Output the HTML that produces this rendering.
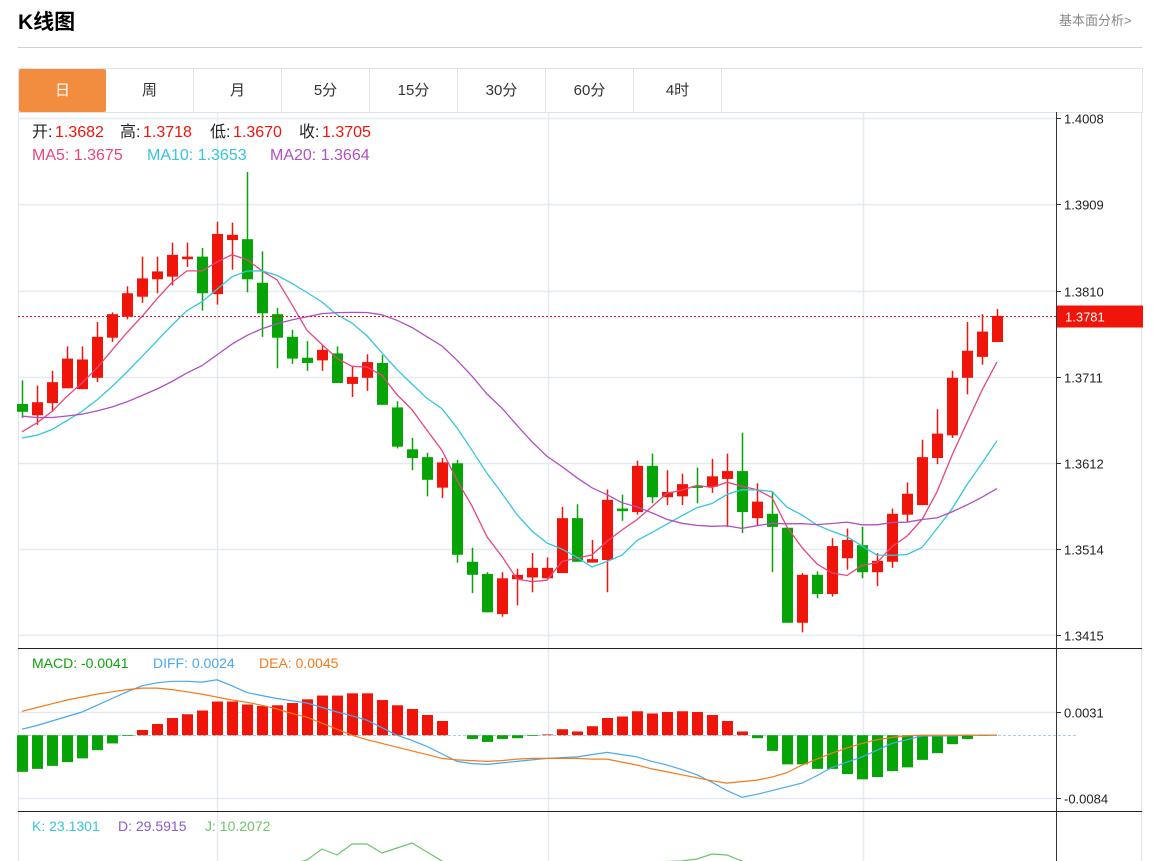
<!DOCTYPE html>
<html><head><meta charset="utf-8"><style>
html,body{margin:0;padding:0;background:#fff;width:1153px;height:861px;overflow:hidden;font-family:"Liberation Sans","Noto Sans CJK SC",sans-serif}
.abs{position:absolute;white-space:pre;line-height:20px}
.r{color:#f0150a}
</style></head><body>
<div class="abs" style="left:18px;top:10px;font-size:21px;line-height:26px;font-weight:bold;color:#000">K线图</div>
<div class="abs" style="left:1059px;top:11px;font-size:13px;color:#888">基本面分析&gt;</div>
<div class="abs" style="left:18px;top:47px;width:1124px;height:1px;background:#d0d0d0"></div>
<div class="abs" style="left:18px;top:68px;width:1123px;height:43px;border:1px solid #dde3e8;display:flex;font-size:15px;color:#333">
<div style="width:87px;height:43px;background:#f28c3f;color:#fff;display:flex;align-items:center;justify-content:center;border-radius:2px">日</div>
<div style="width:87px;border-right:1px solid #dde3e8;display:flex;align-items:center;justify-content:center">周</div>
<div style="width:87px;border-right:1px solid #dde3e8;display:flex;align-items:center;justify-content:center">月</div>
<div style="width:87px;border-right:1px solid #dde3e8;display:flex;align-items:center;justify-content:center">5分</div>
<div style="width:87px;border-right:1px solid #dde3e8;display:flex;align-items:center;justify-content:center">15分</div>
<div style="width:87px;border-right:1px solid #dde3e8;display:flex;align-items:center;justify-content:center">30分</div>
<div style="width:87px;border-right:1px solid #dde3e8;display:flex;align-items:center;justify-content:center">60分</div>
<div style="width:87px;border-right:1px solid #dde3e8;display:flex;align-items:center;justify-content:center">4时</div>
</div>
<svg id="chart" class="abs" style="left:0;top:0;line-height:normal" width="1153" height="861"></svg>
<div style="font-size:16px;color:#222">
<span class="abs" style="left:32px;top:123px">开:</span><span class="abs r" style="left:55px;top:123px">1.3682</span>
<span class="abs" style="left:120px;top:123px">高:</span><span class="abs r" style="left:143px;top:123px">1.3718</span>
<span class="abs" style="left:210px;top:123px">低:</span><span class="abs r" style="left:233px;top:123px">1.3670</span>
<span class="abs" style="left:299px;top:123px">收:</span><span class="abs r" style="left:322px;top:123px">1.3705</span>
</div>
<div style="font-size:16px">
<span class="abs" style="left:32px;top:146px;color:#e8457c">MA5: 1.3675</span>
<span class="abs" style="left:147px;top:146px;color:#35c6dc">MA10: 1.3653</span>
<span class="abs" style="left:270px;top:146px;color:#b14fc2">MA20: 1.3664</span>
</div>
<div style="font-size:14px">
<span class="abs" style="left:32px;top:653px;color:#0aa50a">MACD: -0.0041</span>
<span class="abs" style="left:153px;top:653px;color:#48a8f0">DIFF: 0.0024</span>
<span class="abs" style="left:259px;top:653px;color:#f57a1a">DEA: 0.0045</span>
</div>
<div style="font-size:14px">
<span class="abs" style="left:32px;top:816px;color:#35c6dc">K: 23.1301</span>
<span class="abs" style="left:118px;top:816px;color:#8a5ad0">D: 29.5915</span>
<span class="abs" style="left:205px;top:816px;color:#6cc46c">J: 10.2072</span>
</div>
<script>
const history = [1.3712,1.3705,1.3698,1.3690,1.3682,1.3694,1.3687,1.3680,1.3682,1.3680,1.3650,1.3640,1.3630,1.3625,1.3625,1.3630,1.3640,1.3645,1.3654];
const opens = [1.3680,1.3667,1.3681,1.3698,1.3697,1.3710,1.3756,1.3780,1.3803,1.3823,1.3826,1.3846,1.3849,1.3806,1.3868,1.3869,1.3819,1.3783,1.3757,1.3733,1.3730,1.3738,1.3703,1.3710,1.3727,1.3676,1.3628,1.3619,1.3584,1.3612,1.3499,1.3485,1.3439,1.3479,1.3481,1.3480,1.3486,1.3549,1.3498,1.3501,1.3560,1.3556,1.3609,1.3573,1.3574,1.3586,1.3585,1.3594,1.3603,1.3549,1.3554,1.3538,1.3429,1.3484,1.3462,1.3503,1.3518,1.3487,1.3499,1.3553,1.3564,1.3618,1.3644,1.3710,1.3734,1.3751];
const highs = [1.3707,1.3701,1.3718,1.3746,1.3746,1.3774,1.3785,1.3815,1.3849,1.3849,1.3865,1.3865,1.3859,1.3889,1.3888,1.3946,1.3855,1.3790,1.3765,1.3752,1.3748,1.3746,1.3724,1.3737,1.3736,1.3683,1.3641,1.3624,1.3618,1.3616,1.3515,1.3487,1.3487,1.3491,1.3509,1.3504,1.3562,1.3565,1.3524,1.3582,1.3576,1.3615,1.3623,1.3604,1.3600,1.3607,1.3617,1.3623,1.3647,1.3589,1.3580,1.3538,1.3486,1.3488,1.3526,1.3537,1.3539,1.3509,1.3560,1.3590,1.3639,1.3674,1.3718,1.3774,1.3783,1.3789];
const lows = [1.3664,1.3656,1.3671,1.3698,1.3697,1.3705,1.3751,1.3777,1.3796,1.3807,1.3816,1.3837,1.3787,1.3794,1.3834,1.3808,1.3757,1.3721,1.3726,1.3718,1.3718,1.3704,1.3688,1.3695,1.3679,1.3629,1.3604,1.3574,1.3572,1.3498,1.3463,1.3441,1.3436,1.3449,1.3464,1.3480,1.3486,1.3499,1.3498,1.3464,1.3546,1.3553,1.3566,1.3564,1.3564,1.3566,1.3578,1.3539,1.3532,1.3541,1.3487,1.3429,1.3418,1.3457,1.3459,1.3490,1.3480,1.3471,1.3492,1.3545,1.3564,1.3611,1.3641,1.3691,1.3725,1.3751];
const closes = [1.3671,1.3682,1.3705,1.3732,1.3731,1.3757,1.3783,1.3807,1.3824,1.3832,1.3851,1.3849,1.3807,1.3875,1.3874,1.3823,1.3784,1.3756,1.3732,1.3727,1.3742,1.3704,1.3711,1.3728,1.3679,1.3631,1.3618,1.3593,1.3613,1.3507,1.3484,1.3441,1.3480,1.3484,1.3492,1.3492,1.3549,1.3499,1.3502,1.3570,1.3557,1.3609,1.3573,1.3579,1.3588,1.3584,1.3597,1.3603,1.3556,1.3568,1.3539,1.3429,1.3484,1.3462,1.3517,1.3524,1.3487,1.3500,1.3554,1.3577,1.3619,1.3646,1.3710,1.3741,1.3763,1.3781];
// MACD values in units of 0.0001
const macdHist = [-49,-45,-41,-36,-31,-20,-11,-1,7,15,23,28,33,45,45,41,39,40,43,48,53,53,56,56,47,40,35,27,19,0,-5,-9,-5,-4,-1,1,8,5,12,23,25,32,29,31,32,31,27,19,5,-4,-21,-39,-39,-45,-45,-52,-59,-56,-48,-43,-33,-24,-12,-5,-1,0];
const diffVals = [8,13,19,25,31,40,49,58,66,70,72,72,71,74,66,57,53,49,46,43,37,31,26,20,10,0,-7,-15,-25,-35,-38,-39,-37,-35,-33,-31,-30,-29,-26,-23,-26,-29,-35,-40,-46,-53,-63,-74,-83,-79,-74,-69,-64,-54,-43,-36,-29,-20,-11,-6,-1,-1,-1,0,0,0];
const deaVals = [32,37,42,47,51,55,58,61,63,63,61,58,55,51,47,44,40,35,29,24,16,8,0,-6,-11,-16,-21,-26,-31,-33,-34,-35,-34,-32,-31,-31,-31,-31,-32,-32,-36,-40,-45,-49,-53,-57,-61,-64,-62,-60,-56,-50,-40,-32,-24,-17,-11,-6,-3,-1,0,0,0,0,0,0];
const jVals = [10,12,15,20,25,28,30,33,38,42,45,48,50,52,50,46,44,48,52,60,82,70,92,92,74,84,94,76,58,45,35,25,20,18,22,28,35,40,42,48,52,55,56,57,58,62,72,70,58,45,30,20,12,10,15,20,25,22,18,15,14,12,10,10,10,10];
const priceTicks = ["1.4008","1.3909","1.3810","1.3711","1.3612","1.3514","1.3415"];
const macdTicks = ["0.0031","-0.0084"];
const lastPrice = 1.3781;

const svg = document.getElementById('chart');
const NS='http://www.w3.org/2000/svg';
function mk(tag, attrs){const e=document.createElementNS(NS,tag);for(const k in attrs)e.setAttribute(k,attrs[k]);svg.appendChild(e);return e;}
const X = i => 22 + 15*i;
const Y = p => 118 + (1.4008 - p)*8718;
const MY = v => 735.2 - v*0.748;
const JY = v => 850 - (v-80)*0.5;
const L=18, R=1056;

let e;
e=mk('rect',{x:18.5,y:112.5,width:1123,height:760,fill:'none',stroke:'#dde3e8'});


[217,548,863].forEach(x=>{
 e=mk('line',{x1:x+.5,x2:x+.5,y1:113,y2:861,stroke:'#e3eaf1','stroke-width':1.5});
 
 
});
priceTicks.forEach(t=>{
 const y=Math.round(Y(parseFloat(t)))+.5;
 e=mk('line',{x1:L,x2:R,y1:y,y2:y,stroke:'#e3eaf1','stroke-width':1.5});
 
 
 e=mk('line',{x1:R,x2:R+5,y1:y,y2:y,stroke:'#333'});
 
 
 e=mk('text',{x:R+8,y:y+5,'font-size':13,fill:'#222','font-family':'Liberation Sans, sans-serif'});
 e.textContent=t;
 
 
});
macdTicks.forEach(t=>{
 const y=Math.round(MY(parseFloat(t)*10000))+.5;
 e=mk('line',{x1:L,x2:R,y1:y,y2:y,stroke:'#e3eaf1','stroke-width':1.5});
 
 
 e=mk('line',{x1:R,x2:R+5,y1:y,y2:y,stroke:'#333'});
 
 
 e=mk('text',{x:R+8,y:y+5,'font-size':13,fill:'#222','font-family':'Liberation Sans, sans-serif'});
 e.textContent=t;
 
 
});
e=mk('line',{x1:L,x2:1078,y1:735.5,y2:735.5,stroke:'#9fd3e6','stroke-dasharray':'3,2'});


[648.5,811.5].forEach(y=>{
 e=mk('line',{x1:L,x2:1142,y1:y,y2:y,stroke:'#222'});
 
 
});
e=mk('line',{x1:R+.5,x2:R+.5,y1:112,y2:861,stroke:'#333'});



for(let i=0;i<closes.length;i++){
 const up=closes[i]>=opens[i];
 const col=up?'#f0150a':'#06a406';
 const x=X(i);
 e=mk('line',{x1:x+.5,x2:x+.5,y1:Y(highs[i]),y2:Y(lows[i]),stroke:col,'stroke-width':1.5});
 
 
 const top=Y(Math.max(opens[i],closes[i])), bot=Y(Math.min(opens[i],closes[i]));
 e=mk('rect',{x:x-5,y:top,width:11,height:Math.max(2,bot-top),fill:col});
 
 
}
const all = history.concat(closes);
function ma(n){const pts=[];for(let i=0;i<closes.length;i++){const j=i+history.length;let s=0;for(let k=j-n+1;k<=j;k++)s+=all[k];pts.push(X(i)+','+Y(s/n).toFixed(1));}return pts.join(' ');}
[[5,'#e8457c','ma5-line'],[10,'#35c6dc','ma10-line'],[20,'#b14fc2','ma20-line']].forEach(([n,c,name])=>{
 e=mk('polyline',{points:ma(n),fill:'none',stroke:c,'stroke-width':1.3});
 
 
});
const ly=Math.round(Y(lastPrice))+.5;
e=mk('line',{x1:L,x2:R,y1:ly,y2:ly,stroke:'#f0150a','stroke-dasharray':'2,2'});


e=mk('rect',{x:R+1,y:ly-11,width:86,height:22,fill:'#f0150a'});


e=mk('text',{x:R+9,y:ly+5,'font-size':13,fill:'#fff','font-family':'Liberation Sans, sans-serif'});
e.textContent=lastPrice.toFixed(4);


for(let i=0;i<macdHist.length;i++){
 const v=macdHist[i]; if(v===0) continue;
 const y0=MY(0), y1=MY(v);
 e=mk('rect',{x:X(i)-5,y:Math.min(y0,y1),width:11,height:Math.abs(y1-y0),fill:v>0?'#f0150a':'#06a406'});
 
 
}
e=mk('polyline',{points:diffVals.map((v,i)=>X(i)+','+MY(v).toFixed(1)).join(' '),fill:'none',stroke:'#48a8f0','stroke-width':1.2});


e=mk('polyline',{points:deaVals.map((v,i)=>X(i)+','+MY(v).toFixed(1)).join(' '),fill:'none',stroke:'#f57a1a','stroke-width':1.2});


const cp=mk('clipPath',{id:'kclip'});
const cr=document.createElementNS(NS,'rect');cr.setAttribute('x',18);cr.setAttribute('y',812);cr.setAttribute('width',1038);cr.setAttribute('height',49);cp.appendChild(cr);
e=mk('polyline',{points:jVals.map((v,i)=>X(i)+','+JY(v).toFixed(1)).join(' '),fill:'none',stroke:'#6cc46c','stroke-width':1.2,'clip-path':'url(#kclip)'});


</script>
</body></html>
